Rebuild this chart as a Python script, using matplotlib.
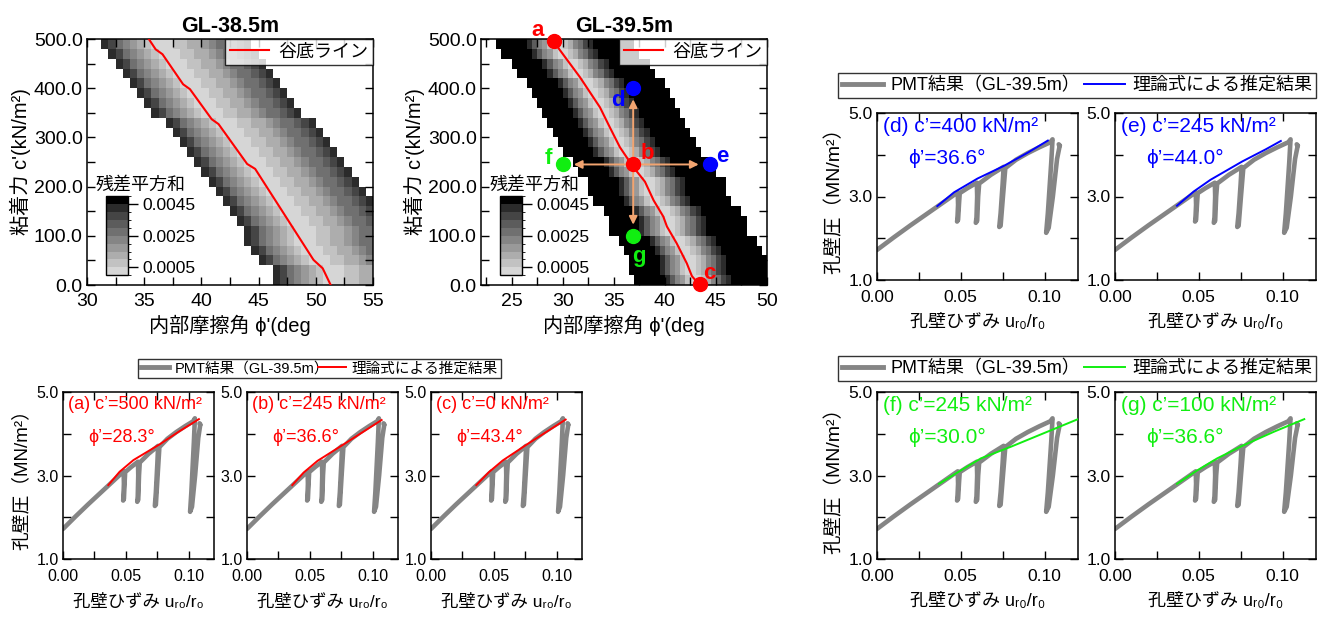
import matplotlib
matplotlib.use("Agg")
import matplotlib.pyplot as plt
import numpy as np
from matplotlib.colors import ListedColormap, BoundaryNorm
from matplotlib.lines import Line2D
from matplotlib.ticker import MultipleLocator

FONT = ['Liberation Sans', 'Noto Sans CJK JP', 'DejaVu Sans']
plt.rcParams['font.family'] = FONT
plt.rcParams['axes.unicode_minus'] = False

W, H = 1335, 619

# ---- 谷底ライン (phi [deg], c' [kN/m2]) ----
VALLEY_385_PHI = [35.4, 36.0, 36.6, 38.4, 39.0, 40.9, 41.5, 44.0, 44.7, 49.8, 50.6, 51.3]
VALLEY_385_C = [500, 479, 469, 408, 398, 337, 327, 246, 236, 51, 34, 0]
VALLEY_395_PHI = [29.1, 31.7, 33.65, 34.6, 35.6, 36.9, 38.05, 38.9, 39.85, 40.2, 41.15, 42.15, 42.65, 43.4]
VALLEY_395_C = [495, 422, 361, 321, 280, 240, 210, 172, 139, 119, 85, 44, 18, 0]

# residual level across a row, by cell offset from the valley cell
PROF_385_K = list(range(-7, 14))
PROF_385_V = [0.0043, 0.0036, 0.0029, 0.0023, 0.0017, 0.0011, 0.0006, 0.0002, 0.0002, 0.0003,
              0.0006, 0.0008, 0.0011, 0.0014, 0.0017, 0.0021, 0.0025, 0.0029, 0.0033, 0.0037, 0.0042]
PROF_395_K = list(range(-11, 16))
PROF_395_V = [0.006, 0.006, 0.006, 0.006, 0.006, 0.006, 0.0041, 0.0033, 0.0024, 0.0015, 0.0008,
              0.0002, 0.0003, 0.0008, 0.0014, 0.0021, 0.0028, 0.0035, 0.0042,
              0.006, 0.006, 0.006, 0.006, 0.006, 0.006, 0.006, 0.006]

# picked points on the GL-39.5m map
MARK_NAME = ['a', 'b', 'c', 'd', 'e', 'f', 'g']
MARK_PHI = [29.1, 36.9, 43.4, 36.9, 44.4, 30.0, 36.9]
MARK_C = [495, 245, 2, 400, 245, 245, 100]

# ---- PMT result (GL-39.5m) ----
PMT_U = [0.000, 0.010, 0.020, 0.030, 0.040, 0.0482,
         0.0484, 0.0480, 0.0478, 0.0484, 0.0490, 0.0494,
         0.054, 0.0596,
         0.0598, 0.0594, 0.0590, 0.0598, 0.0604, 0.0610,
         0.068, 0.0756,
         0.0750, 0.0738, 0.0730, 0.0738, 0.0752, 0.0766,
         0.083, 0.090, 0.097, 0.1035, 0.1048,
         0.1040, 0.1020, 0.1010, 0.1025, 0.1050, 0.1075, 0.1090, 0.1085, 0.1092]
PMT_P = [1.72, 2.02, 2.31, 2.59, 2.87, 3.10,
         2.80, 2.45, 2.40, 2.44, 2.85, 3.08,
         3.20, 3.33,
         3.00, 2.50, 2.37, 2.42, 3.00, 3.31,
         3.52, 3.71,
         3.30, 2.60, 2.27, 2.30, 3.00, 3.68,
         3.88, 4.04, 4.18, 4.30, 4.37,
         3.80, 2.60, 2.13, 2.25, 3.00, 3.90, 4.20, 4.25, 4.22]

# ---- 理論式による推定結果 ----
THEO_A_U = [0.036, 0.045, 0.056, 0.077, 0.092, 0.108]
THEO_A_P = [2.77, 3.09, 3.37, 3.75, 4.05, 4.35]
THEO_B_U = [0.036, 0.045, 0.056, 0.077, 0.092, 0.107]
THEO_B_P = [2.77, 3.07, 3.35, 3.75, 4.04, 4.33]
THEO_C_U = [0.036, 0.046, 0.057, 0.077, 0.092, 0.107]
THEO_C_P = [2.77, 3.08, 3.36, 3.76, 4.05, 4.34]
THEO_D_U = [0.036, 0.046, 0.060, 0.0756, 0.090, 0.102]
THEO_D_P = [2.77, 3.10, 3.43, 3.73, 4.05, 4.34]
THEO_E_U = [0.037, 0.047, 0.057, 0.076, 0.090, 0.099]
THEO_E_P = [2.78, 3.12, 3.40, 3.84, 4.13, 4.33]
THEO_F_U = [0.037, 0.050, 0.062, 0.080, 0.100, 0.120]
THEO_F_P = [2.80, 3.12, 3.41, 3.69, 4.02, 4.35]
THEO_G_U = [0.037, 0.049, 0.061, 0.076, 0.095, 0.113]
THEO_G_P = [2.80, 3.12, 3.41, 3.71, 4.05, 4.35]

PANEL_C = {'a': 500, 'b': 245, 'c': 0, 'd': 400, 'e': 245, 'f': 245, 'g': 100}
PANEL_PHI = {'a': 28.3, 'b': 36.6, 'c': 43.4, 'd': 36.6, 'e': 44.0, 'f': 30.0, 'g': 36.6}

RED = '#ff0000'
BLUE = '#0000ff'
GREEN = '#11ee11'
GRAY = '#858585'
ORANGE = '#f2a470'

fig = plt.figure(figsize=(W / 100, H / 100), dpi=100)


def px_axes(l, t, r, b):
    return fig.add_axes([l / W, 1 - b / H, (r - l) / W, (b - t) / H])


def fbox(l, t, r, b):
    return (l / W, 1 - b / H, (r - l) / W, (b - t) / H)


grays = [0.84, 0.76, 0.68, 0.60, 0.52, 0.44, 0.36, 0.27, 0.17, 0.0]
cmap = ListedColormap([(g, g, g) for g in grays])
cmap.set_over('black')
cmap.set_bad('white')
norm = BoundaryNorm(np.linspace(0, 0.005, 11), 10)


def build_grid(phi0, phi1, dphi, line_phi, line_c, prof_k, prof_v):
    phi_edges = np.arange(phi0, phi1 + dphi / 2, dphi)
    c_edges = np.arange(0, 501, 20)
    c_mid = (c_edges[:-1] + c_edges[1:]) / 2
    valley = np.interp(c_mid, line_c[::-1], line_phi[::-1])
    Z = np.full((len(c_mid), len(phi_edges) - 1), np.nan)
    for i, v in enumerate(valley):
        k0 = int((v - phi0) // dphi)
        for k, val in zip(prof_k, prof_v):
            j = k0 + k
            if 0 <= j < Z.shape[1]:
                Z[i, j] = val
    return phi_edges, c_edges, Z


def style_ticks(ax, fs, pad):
    ax.tick_params(which='both', direction='in', top=True, right=True, width=1.0,
                   labelsize=fs, length=6)
    ax.tick_params(axis='x', pad=pad)
    ax.tick_params(axis='y', pad=3)
    for s in ax.spines.values():
        s.set_linewidth(1.1)


def heatmap(box, title, phi0, phi1, dphi, line_phi, line_c, prof_k, prof_v, xticks):
    ax = px_axes(*box)
    pe, ce, Z = build_grid(phi0, phi1, dphi, np.array(line_phi), np.array(line_c), prof_k, prof_v)
    m = ax.pcolormesh(pe, ce, Z, cmap=cmap, norm=norm, shading='flat', zorder=1)
    ax.plot(line_phi, line_c, color=RED, lw=1.5, zorder=3)
    ax.set_xlim(phi0, phi1)
    ax.set_ylim(0, 500)
    ax.set_xticks(xticks)
    ax.xaxis.set_minor_locator(MultipleLocator(2.5))
    ax.set_yticks(np.arange(0, 501, 100))
    ax.set_yticklabels([f'{v:.1f}' for v in np.arange(0, 501, 100)])
    ax.yaxis.set_minor_locator(MultipleLocator(50))
    style_ticks(ax, 14, 6)
    ax.set_title(title, fontsize=15.5, fontweight='bold', pad=5)
    ax.set_xlabel("内部摩擦角 ϕ'(deg", fontsize=14.5, labelpad=3)
    ax.set_ylabel("粘着力 c'(kN/m²)", fontsize=14.5, labelpad=2)
    leg = ax.legend([Line2D([], [], color=RED, lw=1.5)], ['谷底ライン'], loc='upper right',
                    fontsize=13, frameon=True, fancybox=False, edgecolor='black',
                    borderaxespad=0, handlelength=2.2, handletextpad=0.5, borderpad=0.25)
    leg.get_frame().set_linewidth(1.0)
    leg.set_zorder(5)
    cax = ax.inset_axes([0.066, 0.04, 0.078, 0.32])
    cb = fig.colorbar(m, cax=cax, ticks=[0.0005, 0.0025, 0.0045])
    cb.ax.set_yticklabels(['0.0005', '0.0025', '0.0045'])
    cb.ax.tick_params(direction='out', length=7, width=1.0, labelsize=12.5, pad=3)
    cb.outline.set_linewidth(1.0)
    cax.text(-0.45, 1.04, '残差平方和', transform=cax.transAxes, ha='left', va='bottom', fontsize=13)
    return ax


ax1 = heatmap((87, 39, 373, 285), 'GL-38.5m', 30, 55, 0.625, VALLEY_385_PHI, VALLEY_385_C,
              PROF_385_K, PROF_385_V, [30, 35, 40, 45, 50, 55])
ax2 = heatmap((481, 39, 767, 285), 'GL-39.5m', 22, 50, 0.5, VALLEY_395_PHI, VALLEY_395_C,
              PROF_395_K, PROF_395_V, [25, 30, 35, 40, 45, 50])

# arrows from b and picked points
mark_col = {'a': RED, 'b': RED, 'c': RED, 'd': BLUE, 'e': BLUE, 'f': GREEN, 'g': GREEN}
ib = MARK_NAME.index('b')
for n in ['d', 'e', 'f', 'g']:
    i = MARK_NAME.index(n)
    ax2.annotate('', xy=(MARK_PHI[i], MARK_C[i]), xytext=(MARK_PHI[ib], MARK_C[ib]),
                 arrowprops=dict(arrowstyle='-|>', color=ORANGE, lw=1.4, mutation_scale=12,
                                 shrinkA=0, shrinkB=8), zorder=4)
lab_off = {'a': (-1.6, 22), 'b': (1.4, 23), 'c': (1.0, 22), 'd': (-1.5, -26),
           'e': (1.2, 16), 'f': (-1.4, 12), 'g': (0.6, -43)}
for n, ph, c in zip(MARK_NAME, MARK_PHI, MARK_C):
    ax2.plot(ph, c, 'o', color=mark_col[n], ms=10, zorder=6, clip_on=False)
    dx, dy = lab_off[n]
    ax2.text(ph + dx, c + dy, n, color=mark_col[n], fontsize=16, fontweight='bold',
             ha='center', va='center', zorder=6, clip_on=False)


def pmt_panel(box, tag, u, p, color, ylabel, fs_tick, fs_lab, fs_ylab, fs_txt, txt_x2=0.155):
    ax = px_axes(*box)
    ax.plot(PMT_U, PMT_P, color=GRAY, lw=3.3, solid_joinstyle='round', solid_capstyle='round', zorder=2)
    ax.plot(u, p, color=color, lw=1.4, zorder=3)
    ax.set_xlim(0, 0.12)
    ax.set_ylim(1, 5)
    ax.set_xticks([0, 0.05, 0.10])
    ax.set_xticklabels(['0.00', '0.05', '0.10'])
    ax.xaxis.set_minor_locator(MultipleLocator(0.025))
    ax.set_yticks([1, 3, 5])
    ax.set_yticklabels(['1.0', '3.0', '5.0'])
    ax.yaxis.set_minor_locator(MultipleLocator(1))
    style_ticks(ax, fs_tick, 7)
    ax.set_xlabel('孔壁ひずみ uᵣ₀/r₀', fontsize=fs_lab, labelpad=7)
    if ylabel:
        ax.set_ylabel('孔壁圧（MN/m²）', fontsize=fs_ylab, labelpad=4)
    ax.text(0.03, 0.975, f'({tag}) c’={PANEL_C[tag]} kN/m²', transform=ax.transAxes,
            ha='left', va='top', color=color, fontsize=fs_txt)
    ax.text(txt_x2, 0.73, f'ϕ’={PANEL_PHI[tag]:.1f}°', transform=ax.transAxes,
            ha='left', va='center', color=color, fontsize=fs_txt)
    return ax


def pmt_legend(box, color, fs, hl=2.3, cs=1.0):
    h = [Line2D([], [], color=GRAY, lw=3.5), Line2D([], [], color=color, lw=1.4)]
    leg = fig.legend(h, ['PMT結果（GL-39.5m）', '理論式による推定結果'], loc='center',
                     bbox_to_anchor=fbox(*box), ncol=2, mode='expand', frameon=True,
                     fancybox=False, edgecolor='black', borderaxespad=0,
                     fontsize=fs, handlelength=hl,
                     handletextpad=0.4, columnspacing=cs, borderpad=0.2)
    leg.get_frame().set_linewidth(1.0)


pmt_panel((877, 113, 1078, 280), 'd', THEO_D_U, THEO_D_P, BLUE, True, 12.5, 13, 14, 15)
pmt_panel((1115, 113, 1316, 280), 'e', THEO_E_U, THEO_E_P, BLUE, False, 12.5, 13, 14, 15)
pmt_legend((838, 73, 1316, 98), BLUE, 13)

pmt_panel((63, 392, 214, 559), 'a', THEO_A_U, THEO_A_P, RED, True, 11.5, 12.5, 13.5, 13, 0.17)
pmt_panel((247, 392, 398, 559), 'b', THEO_B_U, THEO_B_P, RED, False, 11.5, 12.5, 13.5, 13, 0.17)
pmt_panel((431, 392, 582, 559), 'c', THEO_C_U, THEO_C_P, RED, False, 11.5, 12.5, 13.5, 13, 0.17)
pmt_legend((138, 355, 501, 382), RED, 10.5, 1.9, 0.6)

pmt_panel((877, 392, 1078, 559), 'f', THEO_F_U, THEO_F_P, GREEN, True, 12.5, 13, 14, 15)
pmt_panel((1115, 392, 1316, 559), 'g', THEO_G_U, THEO_G_P, GREEN, False, 12.5, 13, 14, 15)
pmt_legend((838, 356, 1316, 381), GREEN, 13)

fig.savefig('out.png', dpi=100)
